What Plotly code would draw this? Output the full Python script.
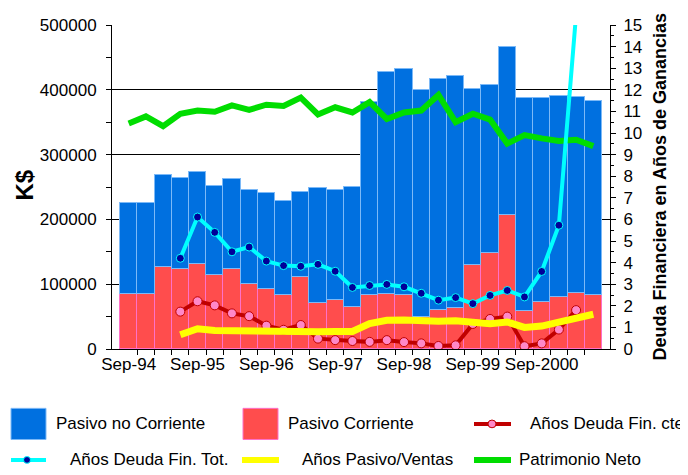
import plotly.graph_objects as go

# trimestres Sep-94 .. Jun-01 (28 periodos)
trimestres = list(range(28))
etiquetas_x = ['Sep-94', 'Sep-95', 'Sep-96', 'Sep-97', 'Sep-98', 'Sep-99', 'Sep-2000']
pos_etiquetas = [0, 4, 8, 12, 16, 20, 24]

# K$
pasivo_corriente = [85000, 85000, 126000, 123000, 131000, 114000, 124000, 100000, 93000, 84000,
                    111000, 71000, 76000, 65000, 84000, 85000, 84000, 49000, 60000, 63000,
                    130000, 148000, 207000, 59000, 73000, 80000, 87000, 84000]
pasivo_no_corriente = [141000, 141000, 142000, 141000, 142000, 138000, 138000, 146000, 147000, 144000,
                       131000, 178000, 169000, 185000, 297000, 343000, 348000, 351000, 357000, 358000,
                       271000, 260000, 259000, 329000, 315000, 310000, 302000, 299000]
patrimonio_neto = [348000, 359000, 344000, 363000, 368000, 366000, 376000, 369000, 377000, 375000,
                   388000, 362000, 373000, 365000, 381000, 355000, 365000, 368000, 392000, 350000,
                   363000, 354000, 317000, 330000, 325000, 321000, 323000, 313000]

# años
anios_deuda_cte = [None, None, None, 1.73, 2.21, 2.02, 1.65, 1.52, 1.08, 0.89,
                   1.11, 0.48, 0.41, 0.37, 0.33, 0.41, 0.32, 0.26, 0.14, 0.17,
                   1.16, 1.39, 1.50, 0.13, 0.26, 0.90, 1.80, None]
anios_deuda_tot = [None, None, None, 4.20, 6.11, 5.40, 4.50, 4.72, 4.07, 3.86,
                   3.83, 3.92, 3.60, 2.85, 2.94, 2.99, 2.88, 2.58, 2.26, 2.38,
                   2.10, 2.48, 2.71, 2.41, 3.59, 5.73, 15.5, None]
anios_pasivo_ventas = [None, None, None, 0.66, 0.94, 0.86, 0.84, 0.82, 0.80, 0.77,
                       0.78, 0.80, 0.81, 0.81, 1.18, 1.33, 1.34, 1.29, 1.28, 1.31,
                       1.23, 1.17, 1.25, 1.00, 1.06, 1.22, 1.45, 1.61]

AZUL = '#0070E0'
ROJO = '#FF4D4D'
FONT = 'Liberation Sans, Arial, sans-serif'

fig = go.Figure()

fig.add_trace(go.Bar(x=trimestres, y=pasivo_corriente, name='Pasivo Corriente',
                     marker=dict(color=ROJO, line=dict(color='#FF70C8', width=1))))
fig.add_trace(go.Bar(x=trimestres, y=pasivo_no_corriente, name='Pasivo no Corriente',
                     marker=dict(color=AZUL, line=dict(color='#7CB9F7', width=1))))
fig.add_trace(go.Scatter(x=trimestres, y=patrimonio_neto, name='Patrimonio Neto', mode='lines',
                         line=dict(color='#00DD00', width=6)))
fig.add_trace(go.Scatter(x=trimestres, y=anios_deuda_cte, name='Años Deuda Fin. cte', yaxis='y2',
                         mode='lines+markers', line=dict(color='#C00000', width=4),
                         marker=dict(size=9, color='#FF88C8', line=dict(color='#C00000', width=1))))
fig.add_trace(go.Scatter(x=trimestres, y=anios_deuda_tot, name='Años Deuda Fin. Tot.', yaxis='y2',
                         mode='lines+markers', line=dict(color='#00FFFF', width=4),
                         marker=dict(size=8, color='#000099', line=dict(color='#00FFFF', width=1))))
fig.add_trace(go.Scatter(x=trimestres, y=anios_pasivo_ventas, name='Años Pasivo/Ventas', yaxis='y2',
                         mode='lines', line=dict(color='#FFFF00', width=7)))

# page pixel -> paper (plot area on the page: 112..610 x 16..349;
# the html body adds an 8px margin, so the figure itself is 8px smaller)
def px(x):
    return (x - 112) / 498

def py(y):
    return (349 - y) / 333

shapes = []
annotations = []

# leyenda manual (dos filas)
shapes.append(dict(type='rect', xref='paper', yref='paper', x0=px(11), x1=px(46), y0=py(442), y1=py(410),
                   fillcolor=AZUL, line=dict(color='#7CB9F7', width=1)))
shapes.append(dict(type='rect', xref='paper', yref='paper', x0=px(243), x1=px(278), y0=py(442), y1=py(410),
                   fillcolor=ROJO, line=dict(color='#FF70C8', width=1)))
shapes.append(dict(type='line', xref='paper', yref='paper', x0=px(474), x1=px(511), y0=py(426), y1=py(426),
                   line=dict(color='#C00000', width=4)))
shapes.append(dict(type='circle', xref='paper', yref='paper', x0=px(488), x1=px(496), y0=py(430), y1=py(422),
                   fillcolor='#FF88C8', line=dict(color='#C00000', width=1)))
shapes.append(dict(type='line', xref='paper', yref='paper', x0=px(11), x1=px(46), y0=py(463), y1=py(463),
                   line=dict(color='#00FFFF', width=4)))
shapes.append(dict(type='circle', xref='paper', yref='paper', x0=px(23.5), x1=px(30.5), y0=py(466.5), y1=py(459.5),
                   fillcolor='#000099', line=dict(color='#00FFFF', width=1)))
shapes.append(dict(type='line', xref='paper', yref='paper', x0=px(242), x1=px(279), y0=py(463), y1=py(463),
                   line=dict(color='#FFFF00', width=6)))
shapes.append(dict(type='line', xref='paper', yref='paper', x0=px(474), x1=px(511), y0=py(463), y1=py(463),
                   line=dict(color='#00DD00', width=6)))

leyenda = [('Pasivo no Corriente', 54, 426), ('Pasivo Corriente', 286, 426), ('Años Deuda Fin. cte', 528, 426),
           ('Años Deuda Fin. Tot.', 68, 463), ('Años Pasivo/Ventas', 300, 463), ('Patrimonio Neto', 517, 463)]
for txt, x, y in leyenda:
    annotations.append(dict(text=txt, xref='paper', yref='paper', x=px(x), y=py(y), xanchor='left',
                            yanchor='middle', showarrow=False, font=dict(size=17, color='black')))

# titulos de ejes
annotations.append(dict(text='<b>K$</b>', xref='paper', yref='paper', x=px(25), y=py(181), textangle=-90,
                        xanchor='center', yanchor='middle', showarrow=False, font=dict(size=24, color='black')))
annotations.append(dict(text='<b>Deuda Financiera en Años de Ganancias</b>', xref='paper', yref='paper',
                        x=px(660), y=py(183), textangle=-90, xanchor='center', yanchor='middle',
                        showarrow=False, font=dict(size=18, color='black')))

fig.update_layout(
    width=680, height=467,
    margin=dict(l=104, r=78, t=8, b=126),
    paper_bgcolor='white', plot_bgcolor='white',
    font=dict(family=FONT, size=17, color='black'),
    barmode='stack', bargap=0,
    showlegend=False,
    shapes=shapes, annotations=annotations,
    xaxis=dict(range=[-0.97, 27.97], tickmode='array', tickvals=pos_etiquetas, ticktext=etiquetas_x,
               ticks='', showgrid=False, zeroline=False,
               showline=True, linecolor='black', linewidth=1,
               minor=dict(tickmode='array', tickvals=[i + 0.5 for i in range(27)], ticks='outside',
                          ticklen=5, tickcolor='black', showgrid=False)),
    yaxis=dict(range=[0, 500000], dtick=100000, tickformat='d', ticks='outside', ticklen=5,
               tickcolor='black', showgrid=True, gridcolor='black', gridwidth=1, zeroline=False,
               showline=True, linecolor='black', linewidth=1, ticklabelstandoff=6,
               ticklabeloverflow='allow',
               minor=dict(dtick=50000, ticks='outside', ticklen=5, tickcolor='black', showgrid=False)),
    yaxis2=dict(range=[0, 15], dtick=1, overlaying='y', side='right', ticks='outside', ticklen=5,
                tickcolor='black', showgrid=False, zeroline=False, showline=True, linecolor='black',
                linewidth=1, ticklabelstandoff=4, ticklabeloverflow='allow',
                minor=dict(dtick=0.5, ticks='outside', ticklen=3, tickcolor='black')),
    yaxis3=dict(range=[0, 15], dtick=1, overlaying='y', side='right', ticks='inside', ticklen=3,
                tickcolor='black', showticklabels=False, showgrid=False, zeroline=False,
                minor=dict(dtick=0.5, ticks='inside', ticklen=2, tickcolor='black')),
)

fig.write_html("out.html")
